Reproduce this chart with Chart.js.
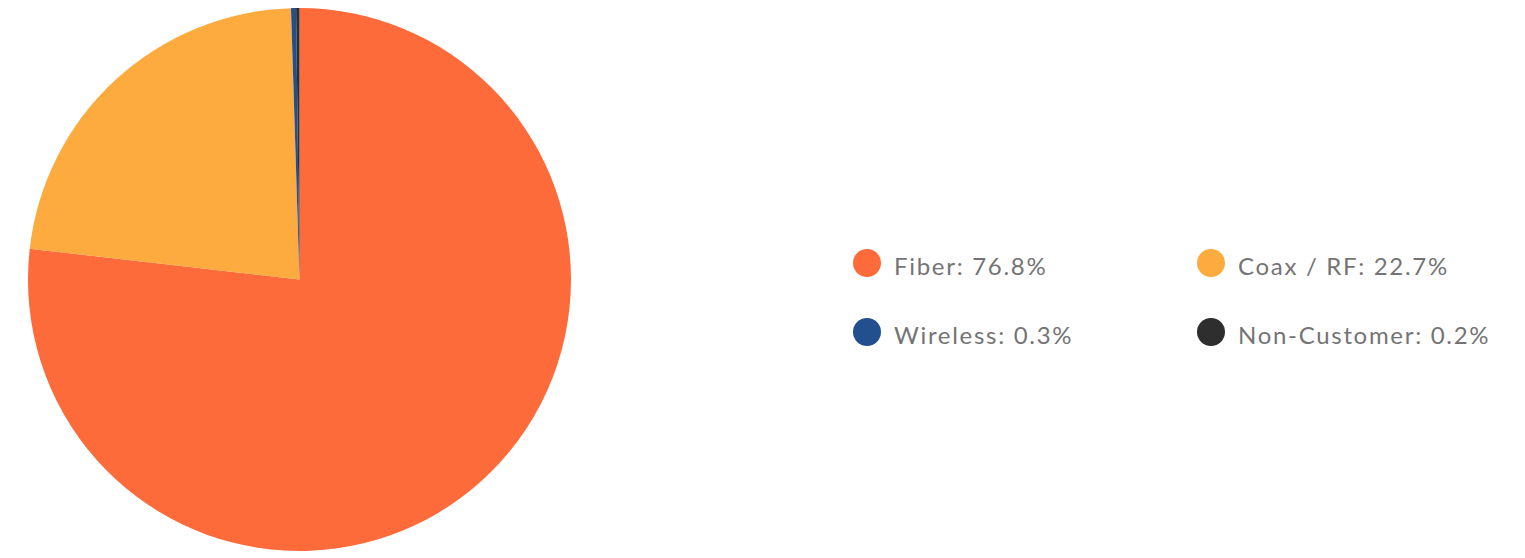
<!DOCTYPE html>
<html>
<head>
<meta charset="utf-8">
<script src="https://cdn.jsdelivr.net/npm/chart.js@4"></script>
<style>
  html, body { margin: 0; padding: 0; background: #ffffff; }
  body { width: 1525px; height: 558px; position: relative; overflow: hidden; font-family: "Lato", "Open Sans", sans-serif; }
  #pieBox { position: absolute; left: 0; top: 0; width: 599px; height: 558px; }
  #legend { position: absolute; left: 853px; top: 247px; }
  .row { display: flex; height: 69px; align-items: flex-start; }
  .item { display: flex; align-items: center; width: 344px; }
  .dot { width: 28px; height: 28px; border-radius: 50%; flex: none; margin-top: -4px; }
  .lbl { margin-left: 13px; font-size: 24px; letter-spacing: 1.7px; color: #747474; white-space: nowrap; line-height: 32px; margin-top: 3px; }
</style>
</head>
<body>
<div id="pieBox"><canvas id="pie"></canvas></div>
<div id="legend"></div>
<script>
const categories = ["Fiber", "Coax / RF", "Wireless", "Non-Customer"];
const shares = [76.8, 22.7, 0.3, 0.2];
const colors = ["#FE6B3B", "#FDAB3E", "#22508F", "#2E2E2E"];

// legend laid out two per row
const legend = document.getElementById("legend");
for (let i = 0; i < categories.length; i += 2) {
  const row = document.createElement("div");
  row.className = "row";
  for (let j = i; j < Math.min(i + 2, categories.length); j++) {
    const item = document.createElement("div");
    item.className = "item";
    const dot = document.createElement("span");
    dot.className = "dot";
    dot.style.background = colors[j];
    const lbl = document.createElement("span");
    lbl.className = "lbl";
    lbl.textContent = categories[j] + ": " + shares[j].toFixed(1) + "%";
    item.appendChild(dot);
    item.appendChild(lbl);
    row.appendChild(item);
  }
  legend.appendChild(row);
}

new Chart(document.getElementById("pie"), {
  type: "pie",
  data: {
    labels: categories,
    datasets: [{
      data: shares,
      backgroundColor: colors,
      borderWidth: 0
    }]
  },
  options: {
    responsive: true,
    maintainAspectRatio: false,
    animation: false,
    layout: { padding: { top: 8, bottom: 7 } },
    plugins: {
      legend: { display: false },
      tooltip: { enabled: false }
    }
  }
});
</script>
</body>
</html>
